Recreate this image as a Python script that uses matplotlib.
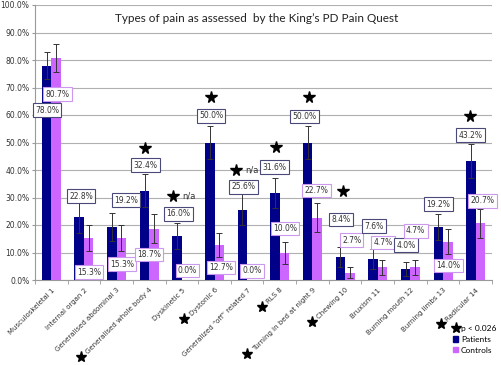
import numpy as np
import matplotlib.pyplot as plt
from matplotlib.lines import Line2D
from matplotlib.patches import Patch
from matplotlib.ticker import MultipleLocator

categories = ["Musculoskeletal 1", "Internal organ 2", "Generalised abdominal 3",
              "Generalised whole body 4", "Dyskinetic 5", "Dystonic 6",
              "Generalized \u201coff\u201d related 7", "RLS 8", "Turning in bed at night 9",
              "Chewing 10", "Bruxism 11", "Burning mouth 12", "Burning limbs 13",
              "Radicular 14"]
patients = [78.0, 22.8, 19.2, 32.4, 16.0, 50.0, 25.6, 31.6, 50.0, 8.4, 7.6, 4.0, 19.2, 43.2]
controls = [80.7, 15.3, 15.3, 18.7, 0.0, 12.7, 0.0, 10.0, 22.7, 2.7, 4.7, 4.7, 14.0, 20.7]
patients_err = [5.0, 5.6, 5.0, 6.0, 4.7, 6.0, 5.5, 5.5, 6.0, 3.6, 3.5, 2.6, 4.8, 6.2]
controls_err = [5.1, 4.7, 4.7, 5.2, 0.0, 4.4, 0.0, 4.0, 5.3, 2.0, 2.7, 2.7, 4.6, 5.3]
# significance mark per category ("*" = p < 0.026, "n/a" = not testable)
signif = ["", "", "", "*", "n/a", "*", "n/a", "*", "*", "*", "", "", "", "*"]
label_star = [False, False, False, True, False, True, False, True, True, True,
              False, False, False, True]

# where Excel's data labels were dragged to (x offset in categories, y in %)
pat_lab_dx = [-0.13, -0.09, 0.29, -0.11, -0.10, -0.11, -0.12, -0.17, -0.25, -0.13, -0.11, -0.13, -0.14, -0.16]
pat_lab_y = [61.8, 30.5, 29.0, 41.8, 24.0, 59.7, 33.9, 41.0, 59.5, 22.0, 19.6, 12.7, 27.6, 52.7]
con_lab_dx = [0.19, 0.15, 0.17, 0.0, 0.17, 0.19, 0.14, 0.16, 0.13, 0.20, 0.17, 0.16, 0.16, 0.21]
con_lab_y = [67.6, 2.9, 5.8, 9.2, 3.4, 4.6, 3.3, 18.8, 32.5, 14.5, 13.6, 17.9, 5.2, 28.8]
star_dx = [0, 0, 0, -0.13, -0.27, -0.12, -0.34, -0.13, -0.11, -0.07, 0, 0, 0, -0.17]
star_y = [0, 0, 0, 48.0, 30.5, 66.4, 40.0, 48.2, 66.4, 32.5, 0, 0, 0, 59.6]

navy = "#000088"
violet = "#CC66FF"

fig = plt.figure(figsize=(5.01, 3.65), dpi=100)
ax = fig.add_axes([35/501, 1-280/365, 457/501, 275/365])

x = np.arange(len(categories))
w = 0.29
ax.bar(x - w/2, patients, w, color=navy, zorder=3)
ax.bar(x + w/2, controls, w, color=violet, zorder=3)
ekw = dict(fmt="none", ecolor="#333333", elinewidth=0.7, capsize=2, capthick=0.7, zorder=4)
ax.errorbar(x - w/2, patients, yerr=patients_err, **ekw)
ce = np.array(controls_err)
ax.errorbar((x + w/2)[ce > 0], np.array(controls)[ce > 0], yerr=ce[ce > 0], **ekw)

for i in range(len(categories)):
    ax.text(i + pat_lab_dx[i], pat_lab_y[i], f"{patients[i]:.1f}%", fontsize=5.5,
            ha="center", va="center", color="#333333", zorder=6,
            bbox=dict(boxstyle="square,pad=0.3", fc="white", ec="#4a4a7a", lw=0.8))
    ax.text(i + con_lab_dx[i], con_lab_y[i], f"{controls[i]:.1f}%", fontsize=5.5,
            ha="center", va="center", color="#333333", zorder=6,
            bbox=dict(boxstyle="square,pad=0.3", fc="white", ec="#CC99EE", lw=0.8))
    if signif[i]:
        ax.plot(i + star_dx[i], star_y[i], marker="*", color="black", ms=8.5, zorder=6)
        if signif[i] == "n/a":
            ax.text(i + star_dx[i] + 0.27, star_y[i], "n/a", fontsize=6, ha="left",
                    va="center", color="#333333")

ax.text(0.485, 0.95, "Types of pain as assessed  by the King\u2019s PD Pain Quest",
        transform=ax.transAxes, ha="center", va="center", fontsize=8.5,
        family="Lato", color="#222222")

ax.set_xlim(-0.5, len(categories) - 0.5)
ax.set_ylim(0, 100)
ax.yaxis.set_major_locator(MultipleLocator(10))
ax.set_yticklabels([f"{v:.1f}%" for v in ax.get_yticks()], fontsize=5.5, color="#333333")
ax.yaxis.grid(True, color="#b0b0b0", lw=0.8)
ax.set_axisbelow(True)
ax.tick_params(axis="y", length=2, color="#999999", pad=2)

ax.set_xticks(x)
xlabels = ax.set_xticklabels(categories, rotation=45, ha="right", rotation_mode="anchor",
                             fontsize=5.0, color="#333333")
ax.set_xticks(np.arange(len(categories) + 1) - 0.5, minor=True)
ax.tick_params(axis="x", which="major", length=0, pad=5)
ax.tick_params(axis="x", which="minor", length=3, color="#999999")

for s in ["top", "right"]:
    ax.spines[s].set_visible(False)
for s in ["left", "bottom"]:
    ax.spines[s].set_color("#999999")

# upright stars just before the significant category names
fig.canvas.draw()
for lab, s in zip(xlabels, label_star):
    if s:
        bb = lab.get_window_extent()
        fx, fy = fig.transFigure.inverted().transform((bb.x0 - 4, bb.y0 - 2))
        fig.add_artist(Line2D([fx], [fy], marker="*", color="black", ms=8,
                              transform=fig.transFigure))

handles = [Line2D([], [], marker="*", color="black", ls="none", ms=8),
           Patch(color=navy), Patch(color=violet)]
fig.legend(handles, ["p < 0.026", "Patients", "Controls"], loc="upper left",
           bbox_to_anchor=(449/501, 1-321/365), frameon=False,
           prop={"family": "Lato", "size": 6},
           handlelength=0.6, handleheight=0.6, handletextpad=0.35, labelspacing=0.45,
           borderpad=0)

fig.savefig("out.png", dpi=100)
